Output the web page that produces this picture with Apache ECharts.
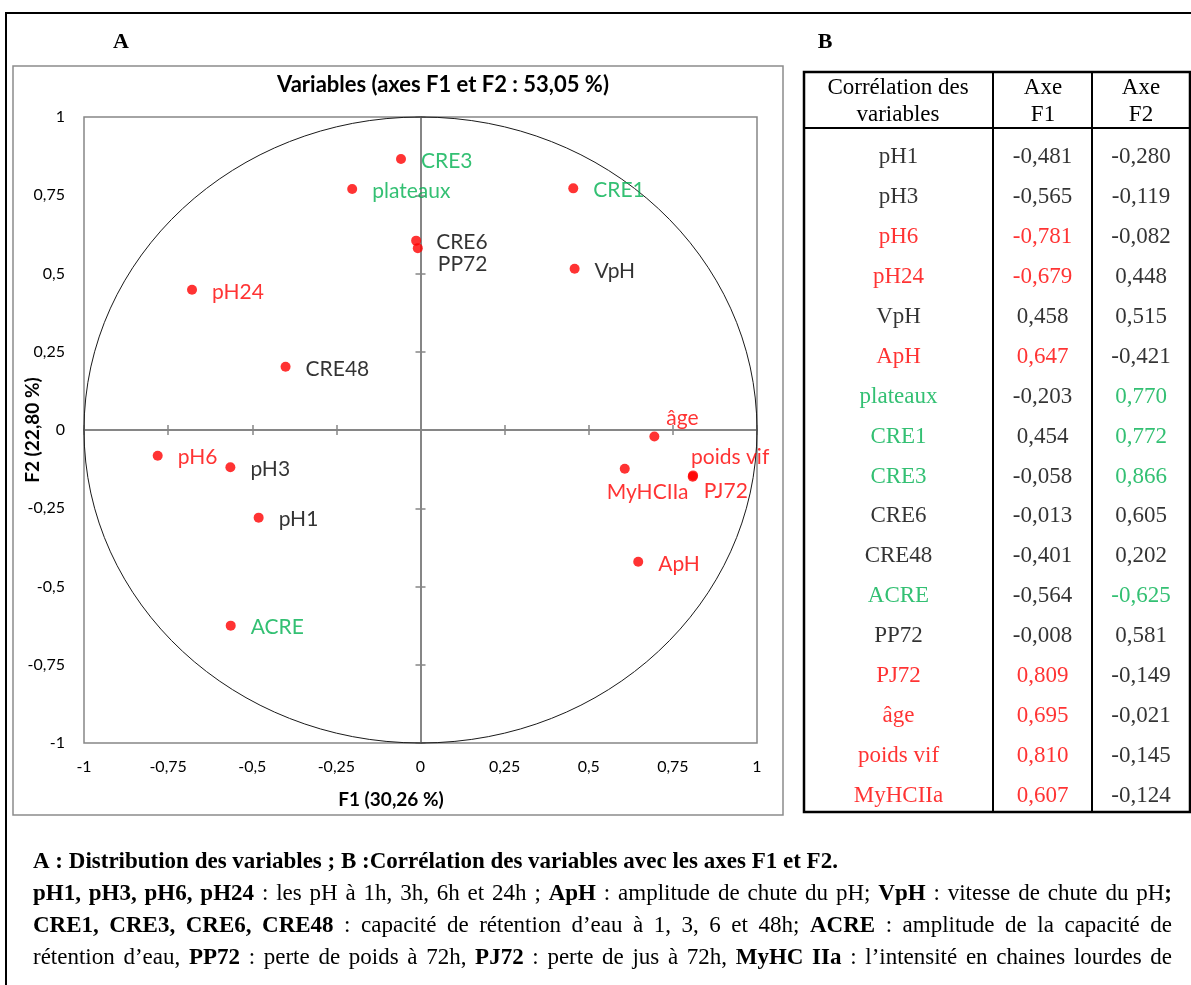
<!DOCTYPE html>
<html>
<head>
<meta charset="utf-8">
<script src="https://cdn.jsdelivr.net/npm/echarts@6/dist/echarts.min.js"></script>
<style>
  html, body { margin: 0; padding: 0; background: #ffffff; }
  #main { width: 1191px; height: 985px; }
</style>
</head>
<body>
<div id="main"></div>
<script>
// ---- Data: correlations of each variable with the PCA axes F1 and F2 ----
const variables = ['pH1', 'pH3', 'pH6', 'pH24', 'VpH', 'ApH', 'plateaux', 'CRE1', 'CRE3',
  'CRE6', 'CRE48', 'ACRE', 'PP72', 'PJ72', 'âge', 'poids vif', 'MyHCIIa'];
const f1 = [-0.481, -0.565, -0.781, -0.679, 0.458, 0.647, -0.203, 0.454, -0.058,
  -0.013, -0.401, -0.564, -0.008, 0.809, 0.695, 0.810, 0.607];
const f2 = [-0.280, -0.119, -0.082, 0.448, 0.515, -0.421, 0.770, 0.772, 0.866,
  0.605, 0.202, -0.625, 0.581, -0.149, -0.021, -0.145, -0.124];
// axis each variable is mainly tied to ('F1' drawn red, 'F2' drawn green, '' black)
const strongAxis = ['', '', 'F1', 'F1', '', 'F1', 'F2', 'F2', 'F2',
  '', '', 'F2', '', 'F1', 'F1', 'F1', 'F1'];

const tickLabels = ['-1', '-0,75', '-0,5', '-0,25', '0', '0,25', '0,5', '0,75', '1'];
const chartTitle = 'Variables (axes F1 et F2 : 53,05 %)';
const xAxisTitle = 'F1 (30,26 %)';
const yAxisTitle = 'F2 (22,80 %)';
const panelLetters = ['A', 'B'];
const tableHeaders = ['Corrélation des\nvariables', 'Axe\nF1', 'Axe\nF2'];

// caption: each line is a list of [text, bold]; the first line is not justified
const captionLines = [
  [['A : Distribution des variables ; B :Corrélation des variables avec les axes F1 et F2.', true]],
  [['pH1, pH3, pH6, pH24', true], [' : les pH à 1h, 3h, 6h et 24h ; ', false], ['ApH', true],
   [' : amplitude de chute du pH; ', false], ['VpH', true], [' : vitesse de chute du pH', false], [';', true]],
  [['CRE1, CRE3, CRE6, CRE48', true], [' : capacité de rétention d’eau à 1, 3, 6 et 48h; ', false],
   ['ACRE', true], [' : amplitude de la capacité de', false]],
  [['rétention d’eau, ', false], ['PP72', true], [' : perte de poids à 72h, ', false], ['PJ72', true],
   [' : perte de jus à 72h, ', false], ['MyHC IIa', true], [' : l’intensité en chaines lourdes de', false]]
];

// ---- Styles ----
const RED = '#FF0000', GREEN = '#00B050', BLACK = '#000000', GREY = '#868686';
const SANS = 'Lato', SERIF = '"Liberation Serif"';
const colorFor = (ax) => ax === 'F1' ? RED : (ax === 'F2' ? GREEN : BLACK);
const fmt3 = (v) => v.toFixed(3).replace('.', ',');
const tickText = (v) => tickLabels[Math.round((v + 1) / 0.25)];

// label nudges for crowded points (pixels, relative to the default right-hand label)
const labelOffsets = {
  'CRE6': [0, 2], 'PP72': [0, 16], 'âge': [-8, -18], 'poids vif': [-22, -18],
  'PJ72': [-9, 15], 'MyHCIIa': [-38, 23]
};

const chart = echarts.init(document.getElementById('main'), null, { renderer: 'canvas' });

const valueBase = { type: 'value', min: -1, max: 1, interval: 0.25, splitLine: { show: false }, gridIndex: 0 };
const zeroAxis = (onZeroIdx, inside) => Object.assign({}, valueBase, {
  axisLine: { show: true, onZero: true, onZeroAxisIndex: onZeroIdx, lineStyle: { color: GREY, width: 2 } },
  axisTick: { show: true, inside: inside, length: 5, lineStyle: { color: GREY, width: 1.5 } },
  axisLabel: { show: false }
});
const tickLabelStyle = { fontFamily: SANS, fontSize: 16, color: BLACK, formatter: tickText };

const tableGrid = (left, width) => ({ left: left, top: 137, width: width, height: 679, outerBoundsMode: 'none' });
const tableX = (g) => ({ type: 'category', gridIndex: g, data: ['c'], show: false });
const tableY = (g) => ({ type: 'category', gridIndex: g, data: variables, inverse: true, show: false });
const tableSeries = (axisIdx, texts, colors) => ({
  type: 'scatter', xAxisIndex: axisIdx, yAxisIndex: axisIdx, symbolSize: 1, silent: true,
  itemStyle: { color: 'rgba(0,0,0,0)' },
  label: { show: true, position: 'inside', formatter: '{b}', fontFamily: SERIF, fontSize: 23 },
  data: variables.map((v, i) => ({ name: texts[i], value: [0, i], label: { color: colors[i] } }))
});

const option = {
  backgroundColor: '#ffffff',
  animation: false,
  grid: [
    { left: 84, top: 117, width: 673, height: 626, show: true, borderColor: GREY, borderWidth: 1.5,
      backgroundColor: 'rgba(0,0,0,0)', outerBoundsMode: 'none' },
    tableGrid(804, 189), tableGrid(993, 99), tableGrid(1092, 98)
  ],
  xAxis: [
    Object.assign({}, valueBase, { position: 'bottom', axisLine: { show: false, onZero: false },
      axisTick: { show: false }, axisLabel: Object.assign({ margin: 16 }, tickLabelStyle) }),
    zeroAxis(1, false), zeroAxis(2, true),
    tableX(1), tableX(2), tableX(3)
  ],
  yAxis: [
    Object.assign({}, valueBase, { position: 'left', axisLine: { show: false, onZero: false },
      axisTick: { show: false }, axisLabel: Object.assign({ margin: 19 }, tickLabelStyle) }),
    zeroAxis(1, false), zeroAxis(2, true),
    tableY(1), tableY(2), tableY(3)
  ],
  series: [
    {
      type: 'scatter', xAxisIndex: 0, yAxisIndex: 0, symbol: 'circle', symbolSize: 10, z: 5,
      itemStyle: { color: RED },
      label: { show: true, position: 'right', distance: 15, formatter: '{b}', fontFamily: SANS, fontSize: 21 },
      data: variables.map((name, i) => ({
        name: name, value: [f1[i], f2[i]],
        label: { color: colorFor(strongAxis[i]), offset: labelOffsets[name] || [0, 2] }
      }))
    },
    tableSeries(3, variables, strongAxis.map(colorFor)),
    tableSeries(4, f1.map(fmt3), strongAxis.map(a => a === 'F1' ? RED : BLACK)),
    tableSeries(5, f2.map(fmt3), strongAxis.map(a => a === 'F2' ? GREEN : BLACK))
  ]
};
chart.setOption(option);

// ---- Decorations: correlation circle, frames, table rules, titles and caption ----
const c0 = chart.convertToPixel({ xAxisIndex: 0, yAxisIndex: 0 }, [0, 0]);
const c1 = chart.convertToPixel({ xAxisIndex: 0, yAxisIndex: 0 }, [1, 1]);

// caption set as justified paragraph lines (spaces stretched to fill the measure)
const measureCtx = document.createElement('canvas').getContext('2d');
const CAP_SIZE = 23;
const capFont = (bold) => (bold ? 'bold ' : '') + CAP_SIZE + 'px "Liberation Serif"';
const runWidth = (t, bold) => { measureCtx.font = capFont(bold); return measureCtx.measureText(t).width; };
const capLeft = 33, capRight = 1172, capTop = 862, capStep = 32;
const captionGraphics = [];
captionLines.forEach((segs, li) => {
  const runs = [];
  segs.forEach(([t, b]) => {
    t.split(/( )/).forEach(piece => {
      if (piece === '') return;
      runs.push({ text: piece, bold: b, space: piece === ' ' });
    });
  });
  const natural = runs.reduce((s, r) => s + runWidth(r.text, r.bold), 0);
  let lastWord = runs.length - 1;
  while (lastWord >= 0 && runs[lastWord].space) lastWord--;
  const stretchable = runs.filter((r, i) => r.space && i < lastWord).length;
  const measure = capRight - capLeft;
  // a line longer than the measure is set slightly narrower instead
  const squeeze = li === 0 ? 1 : Math.min(1, measure / natural);
  const extra = li === 0 ? 0 : (measure - natural * squeeze) / Math.max(stretchable, 1);
  let x = capLeft;
  runs.forEach((r, i) => {
    const w = runWidth(r.text, r.bold) * squeeze;
    if (r.space) { x += w + (i < lastWord ? extra : 0); return; }
    captionGraphics.push({
      type: 'text', x: x, y: capTop + li * capStep, scaleX: squeeze,
      style: { text: r.text, font: capFont(r.bold), fill: BLACK,
        align: 'left', verticalAlign: 'middle', textAlign: 'left', textVerticalAlign: 'middle' }
    });
    x += w;
  });
});

const textEl = (x, y, text, font) => ({
  type: 'text', x: x, y: y,
  style: Object.assign({ text: text, align: 'center', verticalAlign: 'middle',
    textAlign: 'center', textVerticalAlign: 'middle', fill: BLACK }, font)
});
const lineEl = (x1, y1, x2, y2, color, w) => ({
  type: 'line', shape: { x1: x1, y1: y1, x2: x2, y2: y2 }, style: { stroke: color, lineWidth: w }
});

const graphics = [
  // outer frame (top and left rules)
  lineEl(5, 13, 1191, 13, BLACK, 2),
  lineEl(6, 13, 6, 985, BLACK, 2),
  // chart box
  { type: 'rect', shape: { x: 13, y: 66, width: 770, height: 749 }, style: { fill: 'none', stroke: '#8c8c8c', lineWidth: 1.5 } },
  // correlation circle
  { type: 'ellipse', z: 1, shape: { cx: c0[0], cy: c0[1], rx: c1[0] - c0[0], ry: c0[1] - c1[1] },
    style: { fill: 'none', stroke: '#1a1a1a', lineWidth: 1 } },
  textEl(121, 42, panelLetters[0], { fontFamily: 'Liberation Serif', fontSize: 22, fontWeight: 'bold' }),
  textEl(825, 42, panelLetters[1], { fontFamily: 'Liberation Serif', fontSize: 22, fontWeight: 'bold' }),
  textEl(443, 85, chartTitle, { fontFamily: SANS, fontSize: 22, fontWeight: 'bold' }),
  textEl(391, 800, xAxisTitle, { fontFamily: SANS, fontSize: 19, fontWeight: 'bold' }),
  Object.assign(textEl(33, 430, yAxisTitle, { fontFamily: SANS, fontSize: 19, fontWeight: 'bold' }), { rotation: Math.PI / 2 }),
  // table rules
  { type: 'rect', shape: { x: 804, y: 72, width: 386, height: 740 }, style: { fill: 'none', stroke: BLACK, lineWidth: 2.5 } },
  lineEl(804, 128, 1190, 128, BLACK, 2),
  lineEl(993, 72, 993, 812, BLACK, 2),
  lineEl(1092, 72, 1092, 812, BLACK, 2),
  // table headers
  textEl(898, 101, tableHeaders[0], { fontFamily: SERIF, fontSize: 23, lineHeight: 27 }),
  textEl(1043, 101, tableHeaders[1], { fontFamily: SERIF, fontSize: 23, lineHeight: 27 }),
  textEl(1141, 101, tableHeaders[2], { fontFamily: SERIF, fontSize: 23, lineHeight: 27 })
].concat(captionGraphics);

chart.setOption({ graphic: graphics });
</script>
</body>
</html>
